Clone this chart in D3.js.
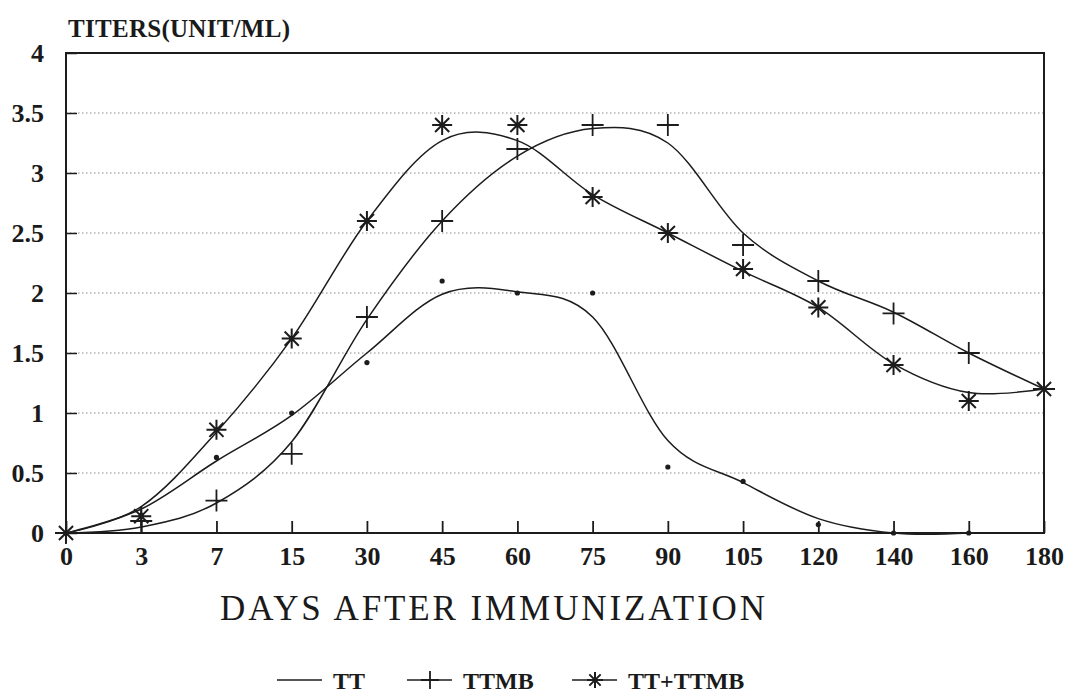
<!DOCTYPE html>
<html>
<head>
<meta charset="utf-8">
<script src="https://cdn.jsdelivr.net/npm/d3@7"></script>
<style>
  body { margin: 0; background: #fff; }
  text { font-family: "Liberation Serif", "DejaVu Serif", serif; fill: #1a1a1a; }
</style>
</head>
<body>
<svg id="chart" width="1084" height="699"></svg>
<script>
// categories on the x axis (days)
const days = ["0", "3", "7", "15", "30", "45", "60", "75", "90", "105", "120", "140", "160", "180"];
const yTicks = [0, 0.5, 1, 1.5, 2, 2.5, 3, 3.5, 4];
const seriesNames = ["TT", "TTMB", "TT+TTMB"];

// measured titers (markers)
const ttPoints    = [0, 0.15, 0.63, 1.0, 1.42, 2.1, 2.0, 2.0, 0.55, 0.43, 0.07, 0, 0, null];
const ttmbPoints  = [0, 0.1, 0.27, 0.66, 1.8, 2.6, 3.2, 3.4, 3.4, 2.4, 2.1, 1.83, 1.5, 1.2];
const comboPoints = [0, 0.14, 0.86, 1.62, 2.6, 3.4, 3.4, 2.8, 2.5, 2.2, 1.88, 1.4, 1.1, 1.2];

// fitted curve values read at each day
const ttFit    = [0, 0.2, 0.6, 0.98, 1.5, 1.99, 2.01, 1.8, 0.77, 0.42, 0.12, 0, 0, null];
const ttmbFit  = [0, 0.05, 0.25, 0.76, 1.78, 2.6, 3.14, 3.37, 3.25, 2.5, 2.1, 1.84, 1.5, 1.2];
const comboFit = [0, 0.22, 0.84, 1.62, 2.6, 3.27, 3.27, 2.82, 2.5, 2.18, 1.88, 1.41, 1.17, 1.2];

let svg = d3.select("#chart");
let plotL = 66, plotR = 1044, plotT = 53, plotB = 533;
let ink = "#1c1c1c";

let x = d3.scalePoint().domain(days).range([plotL, plotR]).padding(0);
let y = d3.scaleLinear().domain([0, 4]).range([plotB, plotT]);

// dotted grid lines
svg.append("g").selectAll("line")
  .data(yTicks.filter(function(d){ return d > 0 && d < 4; }))
  .enter().append("line")
  .attr("x1", plotL).attr("x2", plotR)
  .attr("y1", function(d){ return y(d); })
  .attr("y2", function(d){ return y(d); })
  .attr("stroke", "#8a8a8a")
  .attr("stroke-width", 1.2)
  .attr("stroke-dasharray", "1.5,2.5");

// frame
svg.append("rect")
  .attr("x", plotL).attr("y", plotT)
  .attr("width", plotR - plotL).attr("height", plotB - plotT)
  .attr("fill", "none").attr("stroke", ink).attr("stroke-width", 2);

// y axis (ticks inward)
let yAxis = svg.append("g")
  .attr("transform", "translate(" + plotL + ",0)")
  .call(d3.axisLeft(y).tickValues(yTicks).tickSize(-11).tickPadding(22)
    .tickFormat(function(d){ return d; }));
yAxis.select(".domain").remove();
yAxis.selectAll("line").attr("stroke", ink).attr("stroke-width", 1.5);
yAxis.selectAll("text")
  .attr("font-size", 26).attr("font-weight", "bold")
  .attr("font-family", "Liberation Serif").attr("fill", ink);

// x axis (ticks inward)
let xAxis = svg.append("g")
  .attr("transform", "translate(0," + plotB + ")")
  .call(d3.axisBottom(x).tickSize(-12).tickPadding(14));
xAxis.select(".domain").remove();
xAxis.selectAll("line").attr("stroke", ink).attr("stroke-width", 1.8);
xAxis.selectAll("text")
  .attr("font-size", 26).attr("font-weight", "bold")
  .attr("font-family", "Liberation Serif").attr("fill", ink);

// titles
svg.append("text")
  .attr("x", 68).attr("y", 37)
  .attr("font-size", 25).attr("font-weight", "bold")
  .attr("textLength", 222)
  .text("TITERS(UNIT/ML)");

svg.append("text")
  .attr("x", 220).attr("y", 620)
  .attr("font-size", 35)
  .attr("textLength", 545)
  .text("DAYS AFTER IMMUNIZATION");

// curves
let line = d3.line()
  .defined(function(d){ return d[1] != null; })
  .x(function(d){ return x(d[0]); })
  .y(function(d){ return y(d[1]); })
  .curve(d3.curveCardinal.tension(0));

[ttFit, ttmbFit, comboFit].forEach(function(fit){
  svg.append("path")
    .datum(days.map(function(dd, i){ return [dd, fit[i]]; }))
    .attr("d", line)
    .attr("fill", "none")
    .attr("stroke", ink)
    .attr("stroke-width", 1.5);
});

// marker drawing helpers
function plus(g, cx, cy, s){
  g.append("path")
    .attr("d", "M" + (cx - s) + "," + cy + "H" + (cx + s) + "M" + cx + "," + (cy - s) + "V" + (cy + s))
    .attr("stroke", ink).attr("stroke-width", 1.8).attr("fill", "none");
}
function star(g, cx, cy, s){
  let d = "";
  for (let k = 0; k < 4; k++) {
    let a = k * Math.PI / 4;
    let dx = Math.cos(a) * s, dy = Math.sin(a) * s;
    d += "M" + (cx - dx) + "," + (cy - dy) + "L" + (cx + dx) + "," + (cy + dy);
  }
  g.append("path").attr("d", d)
    .attr("stroke", ink).attr("stroke-width", 2).attr("fill", "none");
}

let marks = svg.append("g");
days.forEach(function(dd, i){
  if (ttPoints[i] != null) {
    marks.append("circle")
      .attr("cx", x(dd)).attr("cy", y(ttPoints[i]))
      .attr("r", 2.6).attr("fill", ink);
  }
  plus(marks, x(dd), y(ttmbPoints[i]), 11);
  star(marks, x(dd), y(comboPoints[i]), 10);
});

// legend
let legendX = [277, 407, 572];
let leg = svg.append("g");
seriesNames.forEach(function(name, i){
  let lx = legendX[i], ly = 680;
  leg.append("line")
    .attr("x1", lx).attr("x2", lx + 45)
    .attr("y1", ly).attr("y2", ly)
    .attr("stroke", ink).attr("stroke-width", 1.5);
  if (i == 1) plus(leg, lx + 23, ly, 9);
  if (i == 2) star(leg, lx + 23, ly, 8);
  leg.append("text")
    .attr("x", lx + 56).attr("y", ly + 9)
    .attr("font-size", 24).attr("font-weight", "bold")
    .text(name);
});
</script>
</body>
</html>
